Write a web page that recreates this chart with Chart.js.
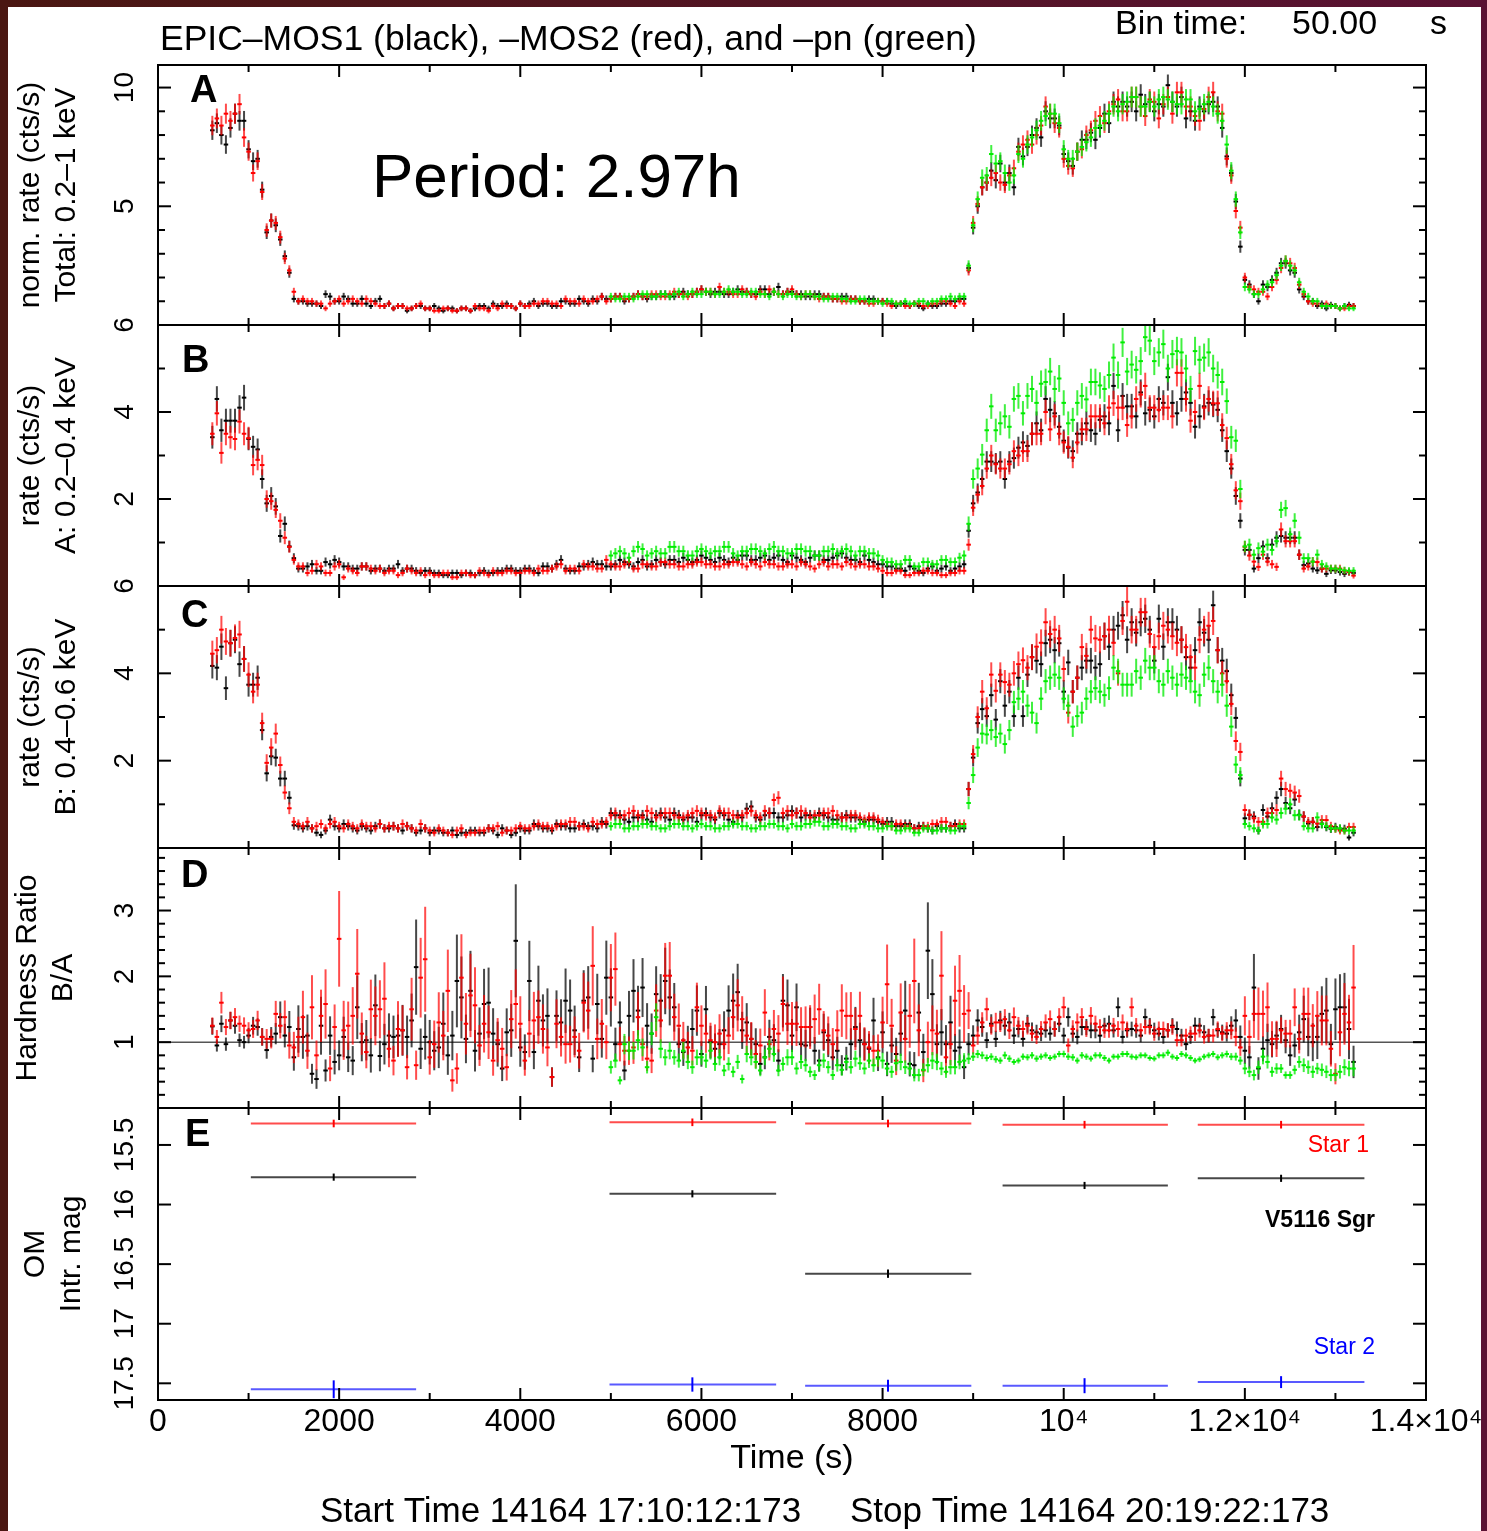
<!DOCTYPE html>
<html>
<head>
<meta charset="utf-8">
<title>V5116 Sgr light curves</title>
<script src="https://cdn.jsdelivr.net/npm/chart.js"></script>
<style>
  html, body { margin: 0; padding: 0; }
  body { width: 1487px; height: 1531px; overflow: hidden; position: relative;
         background: linear-gradient(90deg, #4a1712, #5a1233); }
  #sheet { position: absolute; left: 8px; top: 7px; width: 1473px; height: 1524px; background: #fff; }
  canvas { position: absolute; left: 0; top: 0; }
</style>
</head>
<body>
<div id="sheet"></div>
<canvas id="panelA" width="1487" height="1531"></canvas>
<canvas id="panelB" width="1487" height="1531"></canvas>
<canvas id="panelC" width="1487" height="1531"></canvas>
<canvas id="panelD" width="1487" height="1531"></canvas>
<canvas id="panelE" width="1487" height="1531"></canvas>
<script>
// 50 s bins; each line below is 1000 s (first line 600-950 s)
const binStart = 600;
const binStep = 50;
const pnStart = 5000;   // pn data start later
const binHalf = 25;
const binTime = 50;

// Total 0.2-1 keV, normalised rate
const totMos1 = [
  8.2, 8.5, 8.0, 7.6, 8.3, 8.9, 8.6, 8.6,
  7.4, 6.9, 7.0, 5.7, 3.9, 4.4, 4.2, 3.6, 2.9, 2.2, 1.1, 1.0, 1.0, 0.9, 0.9, 0.9, 0.8, 1.3, 1.2, 1.0,
  1.0, 1.2, 1.1, 0.9, 0.9, 1.1, 0.9, 0.8, 1.0, 1.1, 0.8, 0.9, 0.7, 0.8, 0.8, 0.6, 0.7, 0.8, 0.8, 0.7,
  0.7, 0.8, 0.7, 0.6, 0.7, 0.7, 0.6, 0.7, 0.7, 0.6, 0.7, 0.8, 0.8, 0.7, 0.9, 0.8, 0.8, 0.9, 0.8, 0.7,
  0.9, 0.8, 0.9, 1.0, 0.8, 0.9, 0.9, 0.8, 0.8, 1.0, 1.0, 0.9, 0.9, 1.1, 1.0, 0.9, 1.1, 1.0, 1.2, 1.1,
  1.1, 1.2, 1.2, 1.0, 1.1, 1.2, 1.3, 1.2, 1.1, 1.2, 1.2, 1.3, 1.3, 1.2, 1.2, 1.3, 1.4, 1.3, 1.3, 1.4,
  1.5, 1.4, 1.3, 1.4, 1.4, 1.3, 1.3, 1.4, 1.5, 1.4, 1.4, 1.3, 1.3, 1.5, 1.5, 1.3, 1.4, 1.6, 1.3, 1.4,
  1.4, 1.3, 1.3, 1.2, 1.2, 1.3, 1.3, 1.2, 1.2, 1.1, 1.1, 1.2, 1.2, 1.1, 1.1, 1.0, 1.0, 1.1, 1.1, 1.0,
  1.0, 1.0, 0.9, 0.8, 0.9, 0.9, 0.8, 0.9, 0.8, 0.7, 0.9, 0.8, 0.8, 0.9, 0.9, 1.0, 1.0, 1.1, 1.1, 2.4,
  4.1, 5.0, 5.8, 6.0, 6.5, 6.1, 6.8, 6.0, 6.4, 5.8, 7.5, 7.1, 7.5, 8.0, 8.3, 7.9, 9.0, 8.7, 8.7, 8.4,
  7.2, 6.9, 6.7, 7.3, 7.8, 7.8, 8.1, 7.8, 8.3, 8.9, 8.5, 9.4, 9.2, 9.4, 9.2, 9.4, 9.0, 9.7, 9.3, 9.4,
  9.0, 9.3, 9.2, 10.1, 9.4, 9.2, 9.6, 8.7, 9.0, 8.6, 9.2, 9.0, 9.3, 9.4, 9.2, 8.3, 7.1, 6.4, 5.2, 3.3,
  1.9, 1.7, 1.3, 1.0, 1.7, 1.6, 1.9, 2.2, 2.6, 2.6, 2.3, 2.2, 1.5, 1.2, 1.0, 1.0, 0.8, 0.9, 0.7, 0.85,
  0.8, 0.7, 0.8, 0.85, 0.8
];
const totMos2 = [
  8.4, 8.7, 8.4, 8.9, 8.6, 8.9, 9.3, 7.9,
  7.3, 6.4, 6.9, 5.6, 4.0, 4.4, 4.3, 3.7, 2.8, 2.3, 1.4, 1.0, 1.1, 1.0, 1.0, 0.9, 0.9, 0.7, 0.9, 1.0,
  1.1, 0.9, 1.0, 1.1, 1.0, 0.9, 1.1, 1.0, 0.9, 0.8, 0.8, 0.9, 0.7, 0.8, 0.8, 0.7, 0.7, 0.8, 0.9, 0.7,
  0.7, 0.6, 0.6, 0.7, 0.7, 0.6, 0.6, 0.7, 0.7, 0.6, 0.8, 0.7, 0.7, 0.6, 0.8, 0.7, 0.9, 0.8, 0.8, 0.7,
  0.9, 0.8, 0.8, 0.9, 0.9, 1.0, 1.0, 0.9, 0.9, 0.8, 1.1, 1.0, 1.0, 0.9, 1.1, 1.0, 1.0, 1.1, 1.2, 1.0,
  1.1, 1.2, 1.2, 1.1, 1.1, 1.2, 1.3, 1.2, 1.2, 1.3, 1.3, 1.2, 1.2, 1.3, 1.4, 1.3, 1.3, 1.2, 1.3, 1.4,
  1.5, 1.4, 1.4, 1.3, 1.6, 1.4, 1.4, 1.3, 1.3, 1.5, 1.4, 1.3, 1.2, 1.4, 1.3, 1.5, 1.4, 1.3, 1.3, 1.4,
  1.5, 1.3, 1.2, 1.3, 1.3, 1.2, 1.1, 1.2, 1.2, 1.1, 1.1, 1.0, 1.0, 1.1, 1.1, 1.0, 1.0, 0.9, 0.9, 1.0,
  1.0, 0.9, 0.8, 0.9, 0.9, 0.8, 0.8, 0.9, 0.9, 0.8, 0.8, 0.9, 0.9, 1.0, 1.0, 0.9, 0.8, 1.0, 0.9, 2.3,
  4.3, 5.1, 5.8, 6.0, 6.2, 6.4, 6.0, 5.9, 6.3, 6.6, 7.3, 7.6, 7.8, 7.6, 8.0, 8.4, 9.2, 8.9, 8.5, 8.3,
  7.0, 6.7, 6.6, 7.3, 7.4, 8.0, 8.2, 8.6, 8.8, 8.5, 9.0, 9.3, 9.5, 9.0, 9.0, 9.6, 9.6, 9.2, 8.8, 9.5,
  9.4, 8.7, 9.3, 9.6, 8.9, 9.8, 9.8, 9.2, 9.2, 8.8, 8.6, 9.1, 9.6, 9.8, 9.0, 8.9, 7.0, 6.3, 4.8, 4.1,
  2.0, 1.6, 1.5, 1.4, 1.4, 1.2, 1.6, 1.9, 2.4, 2.7, 2.6, 2.4, 1.7, 1.3, 1.0, 0.9, 0.9, 0.8, 0.9, 0.8,
  0.8, 0.7, 0.7, 0.8, 0.8
];
const totPn = [
  1.2, 1.1, 1.1, 1.2, 1.2, 1.1, 1.2, 1.3, 1.3, 1.2, 1.2, 1.3, 1.3, 1.2, 1.3, 1.4, 1.2, 1.3, 1.4, 1.3,
  1.3, 1.4, 1.4, 1.3, 1.3, 1.4, 1.5, 1.4, 1.4, 1.3, 1.3, 1.4, 1.4, 1.3, 1.3, 1.2, 1.4, 1.3, 1.2, 1.3,
  1.3, 1.2, 1.2, 1.3, 1.3, 1.2, 1.2, 1.1, 1.1, 1.2, 1.2, 1.1, 1.1, 1.0, 1.0, 1.1, 1.1, 1.0, 1.0, 1.0,
  0.9, 1.0, 1.0, 0.9, 0.9, 1.0, 0.9, 0.9, 1.0, 1.0, 0.9, 1.0, 1.0, 1.1, 1.1, 1.2, 1.1, 1.2, 1.2, 2.5,
  4.2, 5.3, 6.2, 6.3, 7.2, 6.8, 6.9, 6.4, 6.0, 6.3, 7.2, 7.0, 7.6, 7.9, 8.2, 8.6, 8.8, 8.9, 8.9, 8.5,
  7.4, 7.0, 7.0, 7.3, 7.5, 7.7, 7.9, 8.3, 8.4, 8.6, 8.9, 9.2, 9.0, 9.3, 9.4, 9.6, 9.6, 9.2, 9.2, 9.4,
  9.2, 9.5, 9.6, 9.5, 9.4, 9.3, 9.3, 9.5, 9.5, 9.0, 9.1, 9.3, 9.4, 9.2, 8.9, 8.6, 7.6, 6.5, 5.3, 3.9,
  1.6, 1.5, 1.3, 1.3, 1.5, 1.7, 1.8, 2.1, 2.5, 2.7, 2.5, 2.3, 1.8, 1.4, 1.2, 1.0, 1.0, 0.8, 0.8, 0.8,
  0.8, 0.7, 0.8, 0.7, 0.7
];

// band A: 0.2-0.4 keV (cts/s)
const bandAMos1 = [
  3.42, 4.3, 3.58, 3.8, 3.8, 3.8, 4.1, 4.33,
  3.38, 3.2, 3.14, 2.46, 1.9, 2.07, 1.83, 1.15, 1.43, 0.91, 0.64, 0.4, 0.4, 0.45, 0.5, 0.35, 0.35, 0.55, 0.5, 0.6,
  0.55, 0.45, 0.45, 0.4, 0.4, 0.45, 0.45, 0.35, 0.4, 0.4, 0.35, 0.4, 0.4, 0.5, 0.35, 0.4, 0.4, 0.35, 0.3, 0.35,
  0.35, 0.3, 0.3, 0.25, 0.25, 0.3, 0.3, 0.25, 0.3, 0.3, 0.25, 0.3, 0.35, 0.3, 0.3, 0.35, 0.35, 0.4, 0.4, 0.35,
  0.35, 0.4, 0.4, 0.35, 0.3, 0.45, 0.45, 0.4, 0.5, 0.6, 0.4, 0.35, 0.35, 0.45, 0.45, 0.5, 0.55, 0.5, 0.5, 0.45,
  0.45, 0.5, 0.6, 0.55, 0.5, 0.45, 0.55, 0.6, 0.45, 0.5, 0.6, 0.55, 0.5, 0.6, 0.6, 0.55, 0.65, 0.6, 0.55, 0.6,
  0.7, 0.65, 0.6, 0.55, 0.65, 0.6, 0.55, 0.65, 0.6, 0.7, 0.7, 0.6, 0.6, 0.65, 0.7, 0.6, 0.65, 0.7, 0.6, 0.55,
  0.7, 0.65, 0.6, 0.55, 0.65, 0.7, 0.7, 0.6, 0.6, 0.65, 0.7, 0.75, 0.65, 0.6, 0.6, 0.55, 0.7, 0.6, 0.55, 0.5,
  0.5, 0.45, 0.45, 0.4, 0.4, 0.35, 0.45, 0.4, 0.35, 0.3, 0.4, 0.45, 0.35, 0.4, 0.45, 0.35, 0.4, 0.45, 0.5, 1.27,
  1.9, 2.15, 2.46, 2.86, 2.86, 2.82, 2.86, 2.46, 2.86, 2.94, 3.18, 3.3, 3.22, 3.5, 3.74, 3.58, 4.3, 4.05, 3.97, 3.66,
  3.34, 3.18, 3.1, 3.5, 3.5, 3.74, 3.58, 3.5, 3.82, 3.9, 3.74, 4.6, 3.58, 4.37, 4.13, 4.13, 3.9, 4.45, 3.97, 4.05,
  3.9, 4.3, 4.21, 4.8, 4.21, 3.97, 4.3, 4.45, 4.21, 3.66, 3.9, 4.13, 4.21, 4.17, 4.05, 3.58, 3.1, 2.7, 2.07, 1.5,
  0.83, 0.83, 0.4, 0.64, 0.91, 0.64, 0.95, 1.11, 1.15, 1.11, 1.11, 1.11, 0.72, 0.48, 0.52, 0.4, 0.36, 0.4, 0.28, 0.36,
  0.36, 0.32, 0.28, 0.32, 0.3
];
const bandAMos2 = [
  3.5, 3.97, 3.06, 3.5, 3.42, 3.38, 3.78, 3.5,
  3.4, 2.78, 2.9, 2.78, 2.0, 1.95, 1.75, 1.5, 1.11, 0.9, 0.6, 0.45, 0.45, 0.3, 0.35, 0.5, 0.45, 0.3, 0.3, 0.45,
  0.5, 0.2, 0.4, 0.35, 0.3, 0.45, 0.45, 0.4, 0.35, 0.4, 0.3, 0.35, 0.35, 0.25, 0.3, 0.4, 0.35, 0.3, 0.35, 0.25,
  0.3, 0.25, 0.25, 0.3, 0.3, 0.2, 0.2, 0.3, 0.3, 0.25, 0.25, 0.35, 0.3, 0.25, 0.35, 0.3, 0.3, 0.35, 0.35, 0.3,
  0.3, 0.35, 0.35, 0.3, 0.4, 0.35, 0.35, 0.4, 0.45, 0.5, 0.35, 0.4, 0.4, 0.35, 0.5, 0.45, 0.45, 0.4, 0.4, 0.6,
  0.5, 0.45, 0.45, 0.5, 0.55, 0.4, 0.4, 0.5, 0.5, 0.45, 0.45, 0.55, 0.55, 0.5, 0.5, 0.45, 0.45, 0.5, 0.5, 0.55,
  0.55, 0.5, 0.5, 0.45, 0.45, 0.5, 0.5, 0.55, 0.55, 0.5, 0.45, 0.55, 0.5, 0.45, 0.55, 0.5, 0.5, 0.45, 0.45, 0.5,
  0.5, 0.45, 0.55, 0.5, 0.45, 0.4, 0.5, 0.55, 0.45, 0.5, 0.5, 0.45, 0.55, 0.5, 0.45, 0.5, 0.5, 0.45, 0.45, 0.4,
  0.35, 0.3, 0.3, 0.35, 0.35, 0.25, 0.25, 0.3, 0.3, 0.35, 0.35, 0.3, 0.3, 0.25, 0.25, 0.3, 0.3, 0.35, 0.35, 0.95,
  1.8, 2.1, 2.3, 2.7, 3.0, 2.8, 2.7, 2.7, 2.8, 3.1, 3.0, 3.1, 3.1, 3.5, 3.5, 3.5, 4.0, 3.6, 3.9, 3.5,
  3.3, 3.2, 2.95, 3.3, 3.6, 3.6, 3.9, 3.9, 3.9, 3.74, 4.1, 4.2, 4.1, 4.1, 3.7, 3.9, 4.3, 4.4, 4.6, 4.1,
  4.1, 4.05, 4.1, 4.1, 3.9, 4.9, 4.9, 4.3, 3.8, 4.0, 4.6, 4.1, 4.3, 4.2, 4.2, 3.7, 3.4, 2.8, 2.2, 1.95,
  0.9, 0.7, 0.56, 0.44, 0.72, 0.56, 0.5, 0.44, 1.3, 1.03, 1.03, 1.03, 0.72, 0.4, 0.45, 0.56, 0.55, 0.4, 0.4, 0.4,
  0.4, 0.4, 0.35, 0.32, 0.24
];
const bandAPn = [
  0.7, 0.75, 0.8, 0.75, 0.65, 0.8, 0.9, 0.85, 0.7, 0.75, 0.8, 0.75, 0.75, 0.9, 0.9, 0.8, 0.8, 0.7, 0.7, 0.8,
  0.85, 0.8, 0.75, 0.8, 0.8, 0.9, 0.9, 0.75, 0.7, 0.8, 0.8, 0.85, 0.85, 0.8, 0.75, 0.85, 0.9, 0.8, 0.8, 0.75,
  0.75, 0.85, 0.85, 0.8, 0.8, 0.7, 0.7, 0.8, 0.8, 0.85, 0.75, 0.8, 0.85, 0.8, 0.7, 0.8, 0.8, 0.75, 0.75, 0.7,
  0.6, 0.55, 0.55, 0.5, 0.5, 0.6, 0.6, 0.45, 0.45, 0.55, 0.55, 0.5, 0.5, 0.6, 0.6, 0.55, 0.55, 0.65, 0.7, 1.43,
  2.46, 2.7, 3.02, 3.58, 4.13, 3.58, 3.74, 3.9, 3.66, 4.3, 4.37, 3.97, 4.37, 4.53, 4.21, 4.65, 4.69, 4.93, 4.53, 4.77,
  4.21, 3.74, 3.82, 4.21, 4.37, 4.29, 4.69, 4.69, 4.61, 4.53, 4.85, 5.25, 4.85, 5.6, 4.93, 5.09, 4.97, 5.17, 5.72, 5.64,
  5.17, 5.37, 5.56, 5.0, 5.33, 5.4, 5.37, 5.0, 4.53, 5.4, 5.2, 5.25, 5.37, 5.0, 4.85, 4.69, 4.25, 3.42, 3.34, 2.23,
  0.91, 0.95, 0.72, 0.87, 0.79, 0.95, 0.83, 1.03, 1.75, 1.79, 1.19, 1.5, 1.11, 0.64, 0.64, 0.56, 0.72, 0.5, 0.45, 0.4,
  0.4, 0.38, 0.36, 0.35, 0.35
];

// band B: 0.4-0.6 keV (cts/s)
const bandBMos1 = [
  4.17, 4.13, 4.61, 3.66, 4.69, 4.77, 4.21, 4.33,
  3.74, 3.74, 3.9, 2.7, 1.71, 2.1, 2.07, 1.59, 1.59, 1.15, 0.52, 0.5, 0.45, 0.5, 0.45, 0.35, 0.3, 0.4, 0.65, 0.5,
  0.45, 0.55, 0.5, 0.45, 0.4, 0.5, 0.45, 0.4, 0.5, 0.55, 0.45, 0.45, 0.5, 0.45, 0.4, 0.5, 0.45, 0.35, 0.4, 0.45,
  0.35, 0.4, 0.4, 0.35, 0.35, 0.4, 0.3, 0.35, 0.35, 0.4, 0.4, 0.35, 0.35, 0.45, 0.4, 0.3, 0.45, 0.4, 0.3, 0.35,
  0.45, 0.4, 0.4, 0.55, 0.5, 0.45, 0.45, 0.4, 0.55, 0.5, 0.5, 0.45, 0.45, 0.5, 0.55, 0.5, 0.5, 0.45, 0.6, 0.55,
  0.8, 0.75, 0.75, 0.65, 0.6, 0.7, 0.7, 0.75, 0.65, 0.6, 0.75, 0.8, 0.7, 0.65, 0.8, 0.75, 0.65, 0.7, 0.7, 0.6,
  0.75, 0.8, 0.7, 0.65, 0.8, 0.75, 0.65, 0.6, 0.75, 0.7, 0.9, 0.95, 0.7, 0.65, 0.75, 0.8, 0.8, 0.7, 0.7, 0.75,
  0.85, 0.8, 0.7, 0.75, 0.75, 0.7, 0.8, 0.75, 0.7, 0.65, 0.65, 0.7, 0.75, 0.7, 0.7, 0.65, 0.6, 0.65, 0.65, 0.6,
  0.55, 0.6, 0.6, 0.5, 0.5, 0.55, 0.55, 0.45, 0.5, 0.5, 0.45, 0.4, 0.5, 0.45, 0.45, 0.5, 0.55, 0.45, 0.45, 1.35,
  2.07, 2.86, 3.18, 3.02, 3.5, 2.94, 3.82, 3.26, 3.58, 3.02, 3.9, 3.02, 3.97, 4.37, 4.29, 4.21, 4.69, 4.77, 4.53, 4.69,
  3.58, 4.25, 3.58, 3.9, 4.13, 4.29, 4.29, 4.13, 4.21, 4.85, 4.61, 5.0, 5.09, 5.33, 4.77, 5.17, 4.93, 5.17, 5.25, 5.0,
  4.29, 5.25, 4.61, 5.17, 5.17, 5.0, 4.77, 4.37, 4.13, 4.53, 5.17, 4.93, 4.77, 5.56, 4.53, 4.29, 4.05, 3.5, 2.98, 1.59,
  0.68, 0.76, 0.72, 0.4, 0.87, 0.72, 0.91, 1.15, 1.35, 1.03, 0.91, 1.11, 0.76, 0.72, 0.56, 0.6, 0.48, 0.56, 0.48, 0.44,
  0.48, 0.44, 0.44, 0.24, 0.35
];
const bandBMos2 = [
  4.45, 4.53, 5.0, 4.73, 4.69, 4.81, 4.89, 4.33,
  3.97, 3.58, 3.74, 2.86, 1.95, 2.3, 2.62, 1.9, 1.27, 0.91, 0.6, 0.55, 0.5, 0.6, 0.45, 0.5, 0.55, 0.45, 0.55, 0.6,
  0.5, 0.45, 0.55, 0.5, 0.45, 0.55, 0.5, 0.5, 0.45, 0.55, 0.45, 0.5, 0.5, 0.45, 0.55, 0.5, 0.45, 0.4, 0.55, 0.45,
  0.4, 0.35, 0.45, 0.4, 0.35, 0.3, 0.4, 0.45, 0.3, 0.35, 0.35, 0.4, 0.4, 0.45, 0.45, 0.5, 0.35, 0.4, 0.4, 0.45,
  0.5, 0.45, 0.45, 0.5, 0.55, 0.5, 0.5, 0.45, 0.5, 0.55, 0.55, 0.6, 0.6, 0.5, 0.5, 0.45, 0.6, 0.55, 0.55, 0.6,
  0.75, 0.8, 0.7, 0.75, 0.8, 0.85, 0.75, 0.7, 0.85, 0.8, 0.7, 0.75, 0.8, 0.8, 0.75, 0.7, 0.7, 0.75, 0.8, 0.85,
  0.8, 0.75, 0.75, 0.7, 0.85, 0.8, 0.8, 0.75, 0.7, 0.75, 0.8, 0.85, 0.75, 0.7, 0.85, 0.8, 1.1, 1.15, 0.8, 0.85,
  0.75, 0.8, 0.85, 0.8, 0.7, 0.75, 0.75, 0.8, 0.8, 0.85, 0.75, 0.7, 0.7, 0.75, 0.75, 0.7, 0.65, 0.7, 0.7, 0.65,
  0.6, 0.55, 0.5, 0.55, 0.55, 0.5, 0.5, 0.45, 0.45, 0.5, 0.5, 0.55, 0.55, 0.6, 0.6, 0.5, 0.5, 0.55, 0.55, 1.35,
  2.15, 3.0, 3.58, 3.2, 3.97, 3.6, 3.97, 3.8, 3.74, 4.0, 4.21, 4.3, 4.13, 4.37, 4.61, 4.7, 5.17, 4.9, 5.0, 4.8,
  4.1, 3.1, 3.58, 3.9, 4.6, 4.4, 5.0, 4.8, 4.77, 4.85, 5.0, 4.7, 4.0, 5.2, 5.64, 5.0, 5.0, 5.4, 5.4, 4.9,
  4.6, 4.85, 5.09, 5.0, 4.85, 4.7, 4.77, 4.6, 4.37, 4.13, 4.77, 5.0, 5.09, 5.2, 4.53, 4.0, 3.82, 3.3, 2.45, 2.2,
  0.87, 0.76, 0.68, 0.6, 0.6, 0.8, 0.8, 0.87, 1.59, 1.35, 1.31, 1.27, 1.19, 0.72, 0.6, 0.6, 0.56, 0.64, 0.64, 0.5,
  0.44, 0.4, 0.4, 0.48, 0.48
];
const bandBPn = [
  0.5, 0.55, 0.55, 0.45, 0.45, 0.5, 0.5, 0.55, 0.55, 0.5, 0.5, 0.45, 0.45, 0.5, 0.55, 0.55, 0.5, 0.5, 0.45, 0.5,
  0.55, 0.5, 0.5, 0.45, 0.45, 0.5, 0.5, 0.55, 0.55, 0.5, 0.5, 0.45, 0.45, 0.5, 0.5, 0.55, 0.55, 0.5, 0.5, 0.45,
  0.55, 0.5, 0.5, 0.55, 0.55, 0.6, 0.6, 0.5, 0.5, 0.55, 0.55, 0.5, 0.5, 0.45, 0.45, 0.55, 0.55, 0.5, 0.5, 0.45,
  0.45, 0.5, 0.5, 0.4, 0.4, 0.45, 0.45, 0.35, 0.35, 0.45, 0.45, 0.4, 0.4, 0.45, 0.45, 0.4, 0.4, 0.5, 0.5, 1.03,
  1.67, 2.3, 2.62, 2.6, 2.7, 2.54, 2.62, 2.38, 2.7, 3.34, 3.42, 3.58, 3.26, 3.1, 2.86, 3.42, 3.82, 3.9, 3.97, 3.9,
  3.42, 3.26, 2.78, 3.02, 3.1, 3.42, 3.58, 3.66, 3.58, 3.5, 3.66, 4.13, 4.05, 3.74, 3.74, 3.74, 4.05, 3.9, 4.29, 4.13,
  4.13, 3.82, 3.74, 4.05, 3.9, 3.74, 3.97, 3.9, 3.82, 3.58, 3.5, 3.97, 4.13, 3.82, 3.58, 3.74, 3.26, 2.78, 1.91, 1.67,
  0.55, 0.5, 0.45, 0.4, 0.55, 0.55, 0.7, 0.65, 0.8, 0.9, 1.0, 0.75, 0.75, 0.5, 0.45, 0.45, 0.7, 0.55, 0.5, 0.45,
  0.45, 0.45, 0.4, 0.4, 0.4
];

// hardness ratio B/A
const hrMos1 = [
  1.24, 0.95, 1.28, 0.97, 1.33, 1.25, 1.03, 1.0,
  1.1, 1.25, 1.23, 1.08, 0.88, 1.08, 1.13, 1.38, 1.1, 1.23, 0.77, 1.2, 1.08, 1.1, 0.52, 0.44, 1.25, 0.57, 1.1, 0.7,
  0.8, 1.08, 0.77, 0.72, 1.53, 1.0, 1.03, 0.8, 1.56, 0.79, 0.97, 1.1, 1.08, 1.1, 1.18, 1.08, 1.33, 2.14, 0.9, 1.08,
  1.0, 0.87, 0.92, 1.28, 0.8, 1.1, 1.93, 1.68, 1.05, 1.78, 0.87, 1.13, 1.58, 1.6, 1.13, 0.97, 0.6, 1.15, 1.18, 2.54,
  0.92, 0.85, 1.93, 0.85, 1.63, 1.33, 1.4, 0.47, 1.4, 1.3, 1.63, 1.48, 1.18, 0.77, 1.63, 1.68, 0.75, 1.58, 1.05, 1.98,
  1.68, 0.97, 1.3, 0.57, 1.4, 1.78, 1.48, 1.83, 1.25, 1.13, 1.73, 1.63, 1.93, 1.68, 1.53, 0.97, 0.85, 1.0, 1.2, 1.48,
  0.82, 1.5, 1.0, 0.9, 0.97, 1.18, 1.48, 1.63, 1.76, 1.18, 1.3, 1.05, 0.97, 0.67, 0.77, 1.08, 1.03, 0.72, 1.63, 1.56,
  1.1, 1.53, 0.97, 0.95, 1.23, 0.87, 0.72, 1.15, 1.03, 0.77, 0.87, 0.65, 0.75, 0.97, 1.23, 1.03, 0.97, 0.9, 1.33, 0.77,
  1.15, 0.67, 0.95, 0.82, 1.13, 1.48, 0.67, 0.65, 1.45, 0.85, 2.39, 1.73, 0.97, 1.15, 0.97, 1.3, 0.87, 0.92, 0.62, 0.97,
  1.1, 1.33, 1.23, 1.03, 1.28, 1.05, 1.33, 1.25, 1.3, 1.1, 1.2, 1.05, 1.28, 1.18, 1.15, 1.13, 1.18, 1.13, 1.2, 1.28,
  1.1, 1.38, 1.13, 1.08, 1.23, 1.23, 1.18, 1.18, 1.1, 1.25, 1.28, 1.18, 1.53, 1.08, 1.18, 1.2, 1.18, 1.1, 1.38, 1.25,
  1.18, 1.13, 1.08, 1.18, 1.25, 1.2, 1.1, 0.97, 1.08, 1.25, 1.25, 1.15, 1.1, 1.38, 1.18, 1.15, 1.13, 1.25, 1.33, 1.08,
  0.87, 0.77, 1.83, 0.6, 0.9, 1.03, 0.97, 1.1, 1.2, 1.03, 0.8, 0.95, 1.15, 1.35, 1.08, 1.0, 1.08, 1.43, 1.48, 0.97,
  1.5, 1.53, 1.53, 1.2, 0.7
];
const hrMos2 = [
  1.25, 1.08, 1.6, 1.23, 1.33, 1.38, 1.28, 1.25,
  1.18, 1.2, 1.33, 1.08, 1.05, 1.05, 1.43, 1.25, 1.38, 0.95, 0.92, 1.08, 1.38, 0.87, 1.53, 0.8, 1.4, 1.58, 0.6, 1.23,
  2.57, 1.18, 1.25, 1.4, 2.04, 1.13, 0.85, 1.5, 1.4, 1.5, 1.66, 0.9, 0.72, 1.2, 1.18, 0.62, 1.5, 0.65, 1.98, 2.26,
  0.77, 0.97, 1.3, 1.1, 1.78, 0.42, 0.6, 1.98, 1.28, 1.71, 1.56, 0.95, 1.28, 1.15, 0.72, 1.03, 0.9, 0.62, 1.35, 1.58,
  1.28, 0.72, 1.13, 1.33, 1.38, 1.2, 0.92, 0.47, 1.28, 1.08, 0.97, 0.97, 1.08, 0.87, 1.6, 1.48, 2.16, 1.05, 1.28, 1.0,
  1.98, 2.11, 0.97, 0.87, 0.87, 0.92, 1.38, 0.97, 0.75, 0.72, 1.48, 1.33, 2.01, 2.01, 1.38, 1.25, 1.03, 0.92, 0.87, 1.53,
  1.25, 1.13, 1.03, 1.0, 1.13, 0.97, 1.1, 1.38, 1.56, 1.35, 1.1, 1.05, 0.82, 0.95, 1.45, 0.97, 1.2, 1.13, 1.58, 1.28,
  1.28, 1.28, 1.23, 1.23, 1.23, 1.35, 1.5, 1.18, 1.1, 0.97, 1.18, 1.48, 1.4, 1.4, 1.2, 1.4, 0.97, 0.92, 0.87, 0.87,
  1.3, 1.88, 1.25, 0.72, 1.45, 1.05, 1.4, 1.93, 1.18, 0.57, 1.0, 1.18, 1.13, 2.01, 0.77, 0.97, 1.63, 1.78, 1.43, 1.48,
  0.95, 1.1, 1.3, 1.5, 1.25, 1.3, 1.3, 1.35, 1.18, 1.38, 1.25, 1.2, 1.25, 1.13, 1.08, 1.2, 1.3, 1.35, 1.2, 1.38,
  1.53, 0.95, 1.2, 1.3, 1.38, 1.2, 1.4, 1.28, 1.23, 1.18, 1.18, 1.25, 1.2, 1.3, 1.2, 1.53, 1.25, 1.18, 1.23, 1.23,
  1.13, 1.2, 1.2, 1.18, 1.23, 1.03, 1.03, 1.1, 1.13, 1.13, 1.18, 1.08, 1.1, 1.1, 1.2, 1.13, 1.18, 1.18, 1.08, 0.92,
  1.4, 1.08, 1.43, 1.43, 1.43, 1.53, 1.05, 1.05, 1.18, 1.13, 1.13, 1.53, 1.05, 1.43, 1.43, 1.25, 1.4, 1.33, 1.33, 0.9,
  0.52, 1.15, 1.43, 1.3, 1.83
];
const hrPn = [
  0.62, 0.72, 0.42, 0.97, 0.87, 0.87, 1.03, 0.92, 0.62, 1.13, 1.38, 0.9, 0.77, 0.87, 0.77, 0.72, 0.87, 0.7, 0.62, 0.77,
  0.77, 0.72, 0.87, 0.67, 0.77, 0.57, 0.67, 0.55, 0.7, 0.44, 0.82, 0.77, 0.7, 0.57, 0.77, 0.9, 0.82, 0.57, 0.67, 0.77,
  0.77, 0.6, 0.7, 0.65, 0.55, 0.5, 0.65, 0.72, 0.62, 0.5, 0.65, 0.58, 0.7, 0.62, 0.75, 0.68, 0.6, 0.72, 0.65, 0.75,
  0.72, 0.6, 0.55, 0.68, 0.7, 0.62, 0.6, 0.5, 0.5, 0.58, 0.65, 0.72, 0.7, 0.6, 0.55, 0.62, 0.62, 0.7, 0.72, 0.75,
  0.78, 0.82, 0.8, 0.76, 0.78, 0.74, 0.72, 0.8, 0.75, 0.7, 0.72, 0.78, 0.77, 0.8, 0.75, 0.78, 0.8, 0.76, 0.78, 0.82,
  0.82, 0.78, 0.77, 0.72, 0.8, 0.78, 0.75, 0.8, 0.8, 0.76, 0.72, 0.78, 0.78, 0.82, 0.82, 0.78, 0.77, 0.8, 0.8, 0.76,
  0.75, 0.8, 0.8, 0.84, 0.78, 0.76, 0.82, 0.8, 0.76, 0.72, 0.74, 0.78, 0.8, 0.82, 0.77, 0.8, 0.82, 0.78, 0.78, 0.72,
  0.6, 0.55, 0.5, 0.62, 0.78, 0.7, 0.55, 0.6, 0.6, 0.5, 0.5, 0.58, 0.7, 0.65, 0.62, 0.55, 0.6, 0.58, 0.55, 0.5,
  0.5, 0.55, 0.62, 0.6, 0.6
];

// OM exposures and magnitudes
const omStart = [1025, 4985, 7145, 9325, 11480];
const omStop  = [2850, 6825, 8980, 11150, 13320];
const omMid   = [1940, 5900, 8060, 10230, 12400];
const magStar1 = [15.32, 15.31, 15.32, 15.33, 15.33];
const magV5116 = [15.77, 15.91, 16.58, 15.84, 15.78];
const magStar2 = [17.55, 17.51, 17.52, 17.52, 17.49];
const errStar1 = [0.032, 0.032, 0.032, 0.032, 0.032];
const errV5116 = [0.03, 0.03, 0.035, 0.03, 0.03];
const errStar2 = [0.075, 0.06, 0.05, 0.063, 0.05];

// axis ticks
const xTickValues = [0, 2000, 4000, 6000, 8000, 10000, 12000, 14000];
const xTickLabels = ['0', '2000', '4000', '6000', '8000', '10\u2074', '1.2\u00d710\u2074', '1.4\u00d710\u2074'];
const yLabelsA = [5, 10];
const yLabelsB = [2, 4, 6];
const yLabelsC = [2, 4, 6];
const yLabelsD = [1, 2, 3];
const yLabelsE = [15.5, 16, 16.5, 17, 17.5];

const FONT = '"Liberation Sans", Arial, Helvetica, sans-serif';
const BLACK = '#000000', RED = '#ff0000', GREEN = '#00f000', BLUE = '#0000ff';
const fade = {[BLACK]: 'rgba(0,0,0,0.72)', [RED]: 'rgba(255,0,0,0.7)', [GREEN]: 'rgba(0,235,0,0.75)', [BLUE]: 'rgba(0,0,255,0.65)'};

// Poisson error of a 50 s bin
const rateErr = v => Math.sqrt(v / binTime);
const ratioErr = (a, b, k) => (v, i) => k * v * Math.sqrt(1 / (binTime * a[i]) + 1 / (binTime * b[i]));

function lightCurve(values, t0, color, errFn) {
  return {
    data: values.map((v, i) => ({x: t0 + i * binStep, y: v})),
    borderColor: color,
    barColor: fade[color],
    capColor: color,
    errY: values.map((v, i) => errFn(v, i)),
    errXLo: values.map(() => binHalf),
    errXHi: values.map(() => binHalf)
  };
}

function omSeries(mags, errs, color) {
  return {
    data: mags.map((m, i) => ({x: omMid[i], y: m})),
    borderColor: color,
    barColor: color,
    capColor: fade[color],
    errY: errs,
    errXLo: omMid.map((t, i) => t - omStart[i]),
    errXHi: omMid.map((t, i) => omStop[i] - t)
  };
}

// crosses: vertical error + bin width, drawn through the chart scales
const errorBars = {
  id: 'errorBars',
  afterDatasetsDraw(chart) {
    const {ctx, chartArea: a, scales: {x, y}} = chart;
    ctx.save();
    ctx.beginPath();
    ctx.rect(a.left, a.top, a.right - a.left, a.bottom - a.top);
    ctx.clip();
    ctx.lineWidth = 2;
    chart.data.datasets.forEach(ds => {
      ds.data.forEach((p, i) => {
        const px = x.getPixelForValue(p.x), py = y.getPixelForValue(p.y);
        ctx.strokeStyle = ds.capColor;
        ctx.beginPath();
        ctx.moveTo(x.getPixelForValue(p.x - ds.errXLo[i]), py);
        ctx.lineTo(x.getPixelForValue(p.x + ds.errXHi[i]), py);
        ctx.stroke();
        ctx.strokeStyle = ds.barColor;
        ctx.beginPath();
        ctx.moveTo(px, y.getPixelForValue(p.y - ds.errY[i]));
        ctx.lineTo(px, y.getPixelForValue(p.y + ds.errY[i]));
        ctx.stroke();
      });
    });
    ctx.restore();
  }
};

// box, inward ticks and rotated y labels
const frame = {
  id: 'frame',
  beforeDatasetsDraw(chart, args, o) {
    if (o.refLine == null) return;
    const {ctx, chartArea: a, scales: {y}} = chart;
    const py = y.getPixelForValue(o.refLine);
    ctx.save();
    ctx.strokeStyle = '#555';
    ctx.lineWidth = 1.5;
    ctx.beginPath(); ctx.moveTo(a.left, py); ctx.lineTo(a.right, py); ctx.stroke();
    ctx.restore();
  },
  afterDraw(chart, args, o) {
    const {ctx, chartArea: a, scales: {x, y}} = chart;
    const line = (x1, y1, x2, y2) => { ctx.beginPath(); ctx.moveTo(x1, y1); ctx.lineTo(x2, y2); ctx.stroke(); };
    ctx.save();
    ctx.strokeStyle = '#000';
    ctx.lineWidth = 2;
    ctx.strokeRect(a.left, a.top, a.right - a.left, a.bottom - a.top);
    for (let v = 0; v <= 14000; v += 1000) {
      const px = x.getPixelForValue(v), len = v % 2000 === 0 ? 12 : 7;
      line(px, a.top, px, a.top + len);
      line(px, a.bottom, px, a.bottom - len);
    }
    const lo = y.min, hi = y.max;
    const marks = [[o.yMajor, 13]];
    if (o.yMinor) marks.push([o.yMinor, 7]);
    marks.forEach(([step, len]) => {
      for (let k = Math.ceil(lo / step - 1e-6); k * step <= hi + 1e-6; k++) {
        const v = k * step;
        if (len === 7 && Math.abs(v / o.yMajor - Math.round(v / o.yMajor)) < 1e-6) continue;
        const py = y.getPixelForValue(v);
        line(a.left, py, a.left + len, py);
        line(a.right, py, a.right - len, py);
      }
    });
    ctx.fillStyle = '#000';
    ctx.font = '28px ' + FONT;
    ctx.textAlign = 'center';
    ctx.textBaseline = 'middle';
    o.yLabels.forEach(v => {
      ctx.save();
      ctx.translate(125, y.getPixelForValue(v));
      ctx.rotate(-Math.PI / 2);
      ctx.fillText(String(v), 0, 0);
      ctx.restore();
    });
    ctx.restore();
  }
};

const notes = {
  id: 'notes',
  afterDraw(chart, args, o) {
    const ctx = chart.ctx;
    ctx.save();
    ctx.textBaseline = 'middle';
    (o.items || []).forEach(n => {
      ctx.font = (n.bold ? 'bold ' : '') + n.size + 'px ' + FONT;
      ctx.fillStyle = n.color || '#000';
      ctx.textAlign = n.align || 'left';
      ctx.fillText(n.text, n.x, n.y);
    });
    ctx.restore();
  }
};

function makePanel(id, cfg) {
  return new Chart(document.getElementById(id), {
    type: 'scatter',
    data: {datasets: cfg.datasets},
    options: {
      responsive: false,
      animation: false,
      events: [],
      layout: {autoPadding: false, padding: {left: 0, right: 61, top: cfg.top, bottom: cfg.bottom}},
      elements: {point: {radius: 0, hoverRadius: 0}},
      plugins: {
        legend: {display: false},
        tooltip: {enabled: false},
        frame: {yMajor: cfg.yMajor, yMinor: cfg.yMinor, yLabels: cfg.yLabels, refLine: cfg.refLine},
        notes: {items: cfg.notes}
      },
      scales: {
        x: cfg.x || {type: 'linear', display: false, min: 0, max: 14000},
        y: {
          type: 'linear', min: cfg.yMin, max: cfg.yMax, reverse: !!cfg.reverse,
          afterFit: s => { s.width = 158; },
          ticks: {display: false},
          grid: {display: false, drawTicks: false},
          border: {display: false},
          title: {display: true, text: cfg.yTitle, color: '#000',
                  font: {family: FONT, size: 30, lineHeight: 1.2},
                  padding: {top: cfg.titlePad, bottom: 0}}
        }
      }
    },
    plugins: [errorBars, frame, notes]
  });
}

makePanel('panelA', {
  top: 65, bottom: 1531 - 325, yMin: 0, yMax: 10.95, yMajor: 5, yMinor: 1, yLabels: yLabelsA,
  yTitle: ['norm. rate (cts/s)', 'Total: 0.2\u20131 keV'], titlePad: 13,
  datasets: [
    lightCurve(totMos1, binStart, BLACK, rateErr),
    lightCurve(totMos2, binStart, RED, rateErr),
    lightCurve(totPn, pnStart, GREEN, rateErr)
  ],
  notes: [
    {text: 'EPIC\u2013MOS1 (black), \u2013MOS2 (red), and \u2013pn (green)', x: 160, y: 40, size: 35.5},
    {text: 'Bin time:', x: 1115, y: 25, size: 34},
    {text: '50.00', x: 1292, y: 25, size: 34},
    {text: 's', x: 1430, y: 25, size: 34},
    {text: 'A', x: 190, y: 92, size: 38, bold: true},
    {text: 'Period: 2.97h', x: 372, y: 180, size: 62}
  ]
});

makePanel('panelB', {
  top: 325, bottom: 1531 - 586, yMin: 0, yMax: 6, yMajor: 2, yMinor: 1, yLabels: yLabelsB,
  yTitle: ['rate (cts/s)', 'A: 0.2\u20130.4 keV'], titlePad: 13,
  datasets: [
    lightCurve(bandAMos1, binStart, BLACK, rateErr),
    lightCurve(bandAMos2, binStart, RED, rateErr),
    lightCurve(bandAPn, pnStart, GREEN, rateErr)
  ],
  notes: [{text: 'B', x: 182, y: 362, size: 38, bold: true}]
});

makePanel('panelC', {
  top: 586, bottom: 1531 - 848, yMin: 0, yMax: 6, yMajor: 2, yMinor: 1, yLabels: yLabelsC,
  yTitle: ['rate (cts/s)', 'B: 0.4\u20130.6 keV'], titlePad: 13,
  datasets: [
    lightCurve(bandBMos1, binStart, BLACK, rateErr),
    lightCurve(bandBMos2, binStart, RED, rateErr),
    lightCurve(bandBPn, pnStart, GREEN, rateErr)
  ],
  notes: [{text: 'C', x: 181, y: 617, size: 38, bold: true}]
});

makePanel('panelD', {
  top: 848, bottom: 1531 - 1108, yMin: 0, yMax: 3.95, yMajor: 1, yMinor: 0.2, yLabels: yLabelsD,
  refLine: 1,
  yTitle: ['Hardness Ratio', 'B/A'], titlePad: 10,
  datasets: [
    lightCurve(hrMos1, binStart, BLACK, ratioErr(bandAMos1, bandBMos1, 1)),
    lightCurve(hrMos2, binStart, RED, ratioErr(bandAMos2, bandBMos2, 1)),
    lightCurve(hrPn, pnStart, GREEN, ratioErr(bandAPn, bandBPn, 0.6))
  ],
  notes: [{text: 'D', x: 181, y: 877, size: 38, bold: true}]
});

makePanel('panelE', {
  top: 1108, bottom: 51, yMin: 15.19, yMax: 17.64, reverse: true, yMajor: 0.5, yMinor: 0, yLabels: yLabelsE,
  yTitle: ['OM', 'Intr. mag'], titlePad: 18,
  x: {
    type: 'linear', position: 'bottom', min: 0, max: 14000,
    afterFit: s => { s.height = 80; },
    ticks: {stepSize: 2000, autoSkip: false, maxRotation: 0, minRotation: 0, padding: 3, color: '#000',
            font: {family: FONT, size: 32},
            callback: v => xTickLabels[xTickValues.indexOf(v)]},
    grid: {display: false, drawTicks: false},
    border: {display: false},
    title: {display: true, text: 'Time (s)', color: '#000', font: {family: FONT, size: 34, lineHeight: 1.2},
            padding: {top: 0, bottom: 1}}
  },
  datasets: [
    omSeries(magStar1, errStar1, RED),
    omSeries(magV5116, errV5116, BLACK),
    omSeries(magStar2, errStar2, BLUE)
  ],
  notes: [
    {text: 'E', x: 185, y: 1136, size: 38, bold: true},
    {text: 'Star 1', x: 1369, y: 1146, size: 23, color: RED, align: 'right'},
    {text: 'V5116 Sgr', x: 1375, y: 1221, size: 23, bold: true, align: 'right'},
    {text: 'Star 2', x: 1375, y: 1348, size: 23, color: BLUE, align: 'right'},
    {text: 'Start Time 14164 17:10:12:173', x: 320, y: 1512, size: 35},
    {text: 'Stop Time 14164 20:19:22:173', x: 850, y: 1512, size: 35}
  ]
});
</script>
</body>
</html>
